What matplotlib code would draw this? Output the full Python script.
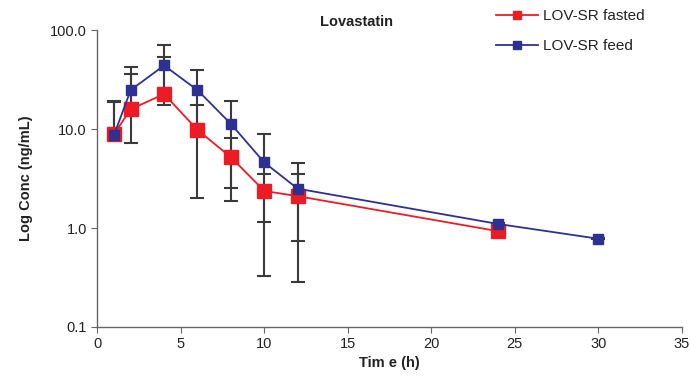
import matplotlib
matplotlib.use("Agg")
import matplotlib.pyplot as plt
import numpy as np

plt.rcParams['font.family'] = ['Liberation Sans', 'DejaVu Sans']

time_fasted = [1, 2, 4, 6, 8, 10, 12, 24]
conc_fasted = [8.9, 15.9, 22.6, 9.8, 5.2, 2.37, 2.1, 0.93]
fasted_upper = [19.0, 36.3, 53.7, 17.5, 8.2, 3.49, 3.49, 0.97]
fasted_lower = [8.9, 15.9, 22.6, 2.02, 1.87, 1.16, 0.74, 0.93]

time_feed = [1, 2, 4, 6, 8, 10, 12, 24, 30]
conc_feed = [8.7, 24.8, 44.0, 24.8, 11.3, 4.6, 2.5, 1.1, 0.78]
feed_upper = [19.2, 42.6, 70.5, 39.4, 19.2, 8.84, 4.57, 1.13, 0.80]
feed_lower = [8.7, 7.2, 17.5, 10.2, 2.55, 0.33, 0.287, 1.1, 0.78]

xticks = [0, 5, 10, 15, 20, 25, 30, 35]
yticks = [0.1, 1.0, 10.0, 100.0]
ytick_labels = ['0.1', '1.0', '10.0', '100.0']

red = '#ed1c24'
blue = '#2e3192'
errc = '#3a3a3a'

fig = plt.figure(figsize=(6.9, 3.82), dpi=100)
ax = fig.add_axes([0.141, 0.144, 0.847, 0.777])

def err(vals, up, lo):
    v = np.array(vals)
    return [v - np.array(lo), np.array(up) - v]

ax.errorbar(time_fasted, conc_fasted, yerr=err(conc_fasted, fasted_upper, fasted_lower),
            fmt='none', ecolor=errc, elinewidth=1.5, capsize=5, capthick=1.5, zorder=2)
ax.errorbar(time_feed, conc_feed, yerr=err(conc_feed, feed_upper, feed_lower),
            fmt='none', ecolor=errc, elinewidth=1.5, capsize=5, capthick=1.5, zorder=2)

ax.plot(time_fasted, conc_fasted, color=red, lw=1.3, marker='s', ms=9.5,
        mfc=red, mec=red, label='LOV-SR fasted', zorder=3)
ax.plot(time_feed, conc_feed, color=blue, lw=1.3, marker='s', ms=7,
        mfc=blue, mec=blue, label='LOV-SR feed', zorder=4)

ax.set_yscale('log')
ax.set_ylim(0.1, 100)
ax.set_xlim(0, 35)
ax.set_yticks(yticks)
ax.set_yticklabels(ytick_labels)
ax.yaxis.set_minor_locator(matplotlib.ticker.NullLocator())
ax.set_xticks(xticks)

for s in ['top', 'right']:
    ax.spines[s].set_visible(False)
for s in ['left', 'bottom']:
    ax.spines[s].set_color('#666666')
    ax.spines[s].set_linewidth(1.0)
ax.tick_params(axis='both', colors='#666666', labelcolor='#222222', labelsize=10.5, length=4)

ax.set_xlabel('Tim e (h)', fontsize=10.5, fontweight='bold', color='#222222', labelpad=3)
ax.set_ylabel('Log Conc (ng/mL)', fontsize=10.5, fontweight='bold', color='#222222', labelpad=12)

fig.text(0.516, 0.942, 'Lovastatin', fontsize=10.5, fontweight='bold', color='#222222',
         ha='center', va='center')

leg = ax.legend(loc='upper left', bbox_to_anchor=(0.705, 1.0), bbox_transform=fig.transFigure,
                frameon=False, fontsize=11, handlelength=2.8, handletextpad=0.3,
                labelspacing=1.05, borderaxespad=0.2)
for t in leg.get_texts():
    t.set_color('#222222')
for h in leg.legend_handles:
    h.set_markersize(6)

fig.savefig('out.png', dpi=100)
